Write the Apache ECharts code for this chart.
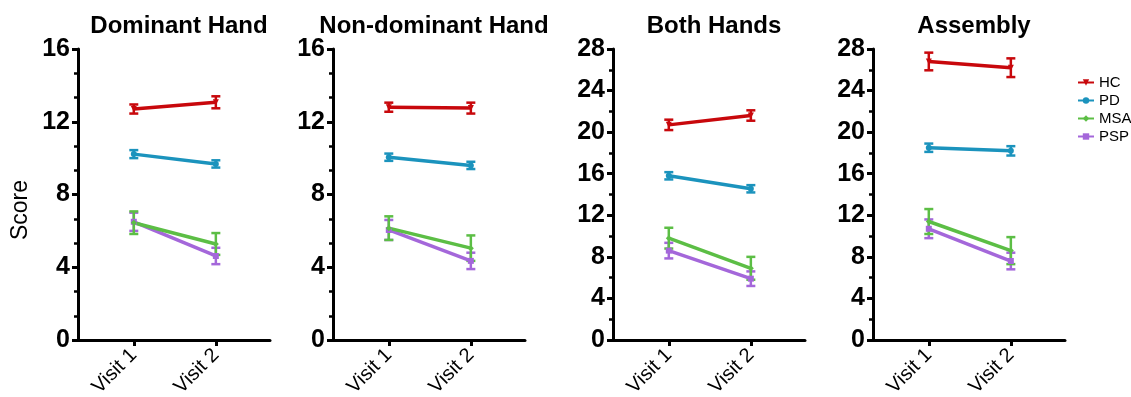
<!DOCTYPE html>
<html>
<head>
<meta charset="utf-8">
<script src="https://cdn.jsdelivr.net/npm/echarts@6/dist/echarts.min.js"></script>
<style>
  html, body { margin: 0; padding: 0; background: #fff; }
  #chart { width: 1131px; height: 397px; }
</style>
</head>
<body>
<div id="chart"></div>
<script>
// Visits on the x axis
const visits = ['Visit 1', 'Visit 2'];

// Panel titles and y-axis ranges
const panelTitles = ['Dominant Hand', 'Non-dominant Hand', 'Both Hands', 'Assembly'];
const yMax = [16, 16, 28, 28];
const yLabel = 'Score';

// Group means per panel: [Visit 1, Visit 2]
const hcMean  = [[12.7, 13.07], [12.8, 12.75], [20.7, 21.6], [26.8, 26.2]];
const pdMean  = [[10.22, 9.68], [10.05, 9.6], [15.8, 14.55], [18.5, 18.2]];
const msaMean = [[6.45, 5.28], [6.15, 5.05], [9.8, 6.9], [11.4, 8.6]];
const pspMean = [[6.5, 4.62], [6.05, 4.35], [8.6, 5.9], [10.7, 7.6]];

// Standard errors per panel: [Visit 1, Visit 2]
const hcErr  = [[0.25, 0.33], [0.25, 0.3], [0.5, 0.5], [0.85, 0.9]];
const pdErr  = [[0.22, 0.2], [0.2, 0.2], [0.35, 0.35], [0.4, 0.45]];
const msaErr = [[0.62, 0.6], [0.65, 0.7], [1.0, 1.1], [1.2, 1.3]];
const pspErr = [[0.5, 0.45], [0.55, 0.45], [0.75, 0.7], [0.9, 0.8]];

const groups = [
  { name: 'PSP', color: '#a467da', symbol: 'rect',     mean: pspMean, err: pspErr },
  { name: 'MSA', color: '#5cbe45', symbol: 'diamond',  mean: msaMean, err: msaErr },
  { name: 'PD',  color: '#1b93bd', symbol: 'circle',   mean: pdMean,  err: pdErr },
  { name: 'HC',  color: '#c8080c', symbol: 'triangle', mean: hcMean,  err: hcErr }
];

const FONT = '"Liberation Sans", Arial, Helvetica, sans-serif';
const gridLefts = [78, 333, 613, 873];
const gridWidth = 192;

const grid = [], xAxis = [], yAxis = [], title = [], lineSeries = [], errSeries = [];

panelTitles.forEach((t, p) => {
  grid.push({
    left: gridLefts[p], width: gridWidth, top: 49, height: 291,
    containLabel: false, outerBoundsMode: 'none'
  });
  title.push({
    text: t, left: gridLefts[p] + gridWidth / 2, top: 9, textAlign: 'center',
    textStyle: { fontFamily: FONT, fontWeight: 'bold', fontSize: 24, color: '#000' }
  });
  xAxis.push({
    type: 'value', gridIndex: p, min: 0.32, max: 2.66,
    axisLine: { show: true, onZero: false, lineStyle: { color: '#000', width: 3 } },
    axisTick: { show: true, length: 6, lineStyle: { color: '#000', width: 3 }, customValues: [1, 2] },
    axisLabel: {
      show: true, rotate: 45, margin: 12, customValues: [1, 2],
      formatter: v => visits[Math.round(v) - 1] || '',
      fontFamily: FONT, fontSize: 20, color: '#000'
    },
    splitLine: { show: false }
  });
  yAxis.push({
    type: 'value', gridIndex: p, min: 0, max: yMax[p], interval: 4,
    axisLine: { show: true, lineStyle: { color: '#000', width: 3 } },
    axisTick: { show: true, length: 6, lineStyle: { color: '#000', width: 3 } },
    minorTick: { show: true, splitNumber: p < 2 ? 3 : 2, length: 4, lineStyle: { color: '#000', width: 2.5 } },
    axisLabel: { margin: 8, fontFamily: FONT, fontWeight: 'bold', fontSize: 25, color: '#000' },
    splitLine: { show: false }
  });

  groups.forEach(g => {
    // mean line with markers
    lineSeries.push({
      type: 'line', name: g.name, xAxisIndex: p, yAxisIndex: p, z: 4,
      data: visits.map((v, i) => [i + 1, g.mean[p][i]]),
      symbol: g.symbol, symbolSize: 6, symbolRotate: g.symbol === 'triangle' ? 180 : 0,
      showSymbol: true,
      lineStyle: { color: g.color, width: 3.5 },
      itemStyle: { color: g.color },
      animation: false
    });
    // error bars (mean ± SEM) with caps
    errSeries.push({
      type: 'custom', name: g.name, xAxisIndex: p, yAxisIndex: p, z: 3,
      itemStyle: { color: g.color },
      data: visits.map((v, i) => [i + 1, g.mean[p][i] - g.err[p][i], g.mean[p][i] + g.err[p][i]]),
      encode: { x: 0, y: [1, 2] },
      renderItem: (params, api) => {
        const x = api.value(0);
        const lo = api.coord([x, api.value(1)]);
        const hi = api.coord([x, api.value(2)]);
        const hw = 4.5;
        const st = { stroke: g.color, lineWidth: 2.5 };
        return {
          type: 'group',
          children: [
            { type: 'line', shape: { x1: lo[0], y1: lo[1], x2: hi[0], y2: hi[1] }, style: st },
            { type: 'line', shape: { x1: lo[0] - hw, y1: lo[1], x2: lo[0] + hw, y2: lo[1] }, style: st },
            { type: 'line', shape: { x1: hi[0] - hw, y1: hi[1], x2: hi[0] + hw, y2: hi[1] }, style: st }
          ]
        };
      },
      silent: true
    });
  });
});

const chart = echarts.init(document.getElementById('chart'), null, { renderer: 'canvas' });
chart.setOption({
  animation: false,
  backgroundColor: '#fff',
  title,
  grid, xAxis, yAxis,
  graphic: [{
    type: 'text', left: 9, top: 180, rotation: Math.PI / 2,
    style: { text: yLabel, fontFamily: FONT, fontSize: 23, fill: '#000' }
  }],
  legend: {
    orient: 'vertical', left: 1072, top: 70, itemGap: 3,
    itemWidth: 16, itemHeight: 8,
    data: ['HC', 'PD', 'MSA', 'PSP'],
    textStyle: { fontFamily: FONT, fontSize: 15, color: '#000' },
    selectedMode: false
  },
  series: lineSeries.concat(errSeries)
});
</script>
</body>
</html>
